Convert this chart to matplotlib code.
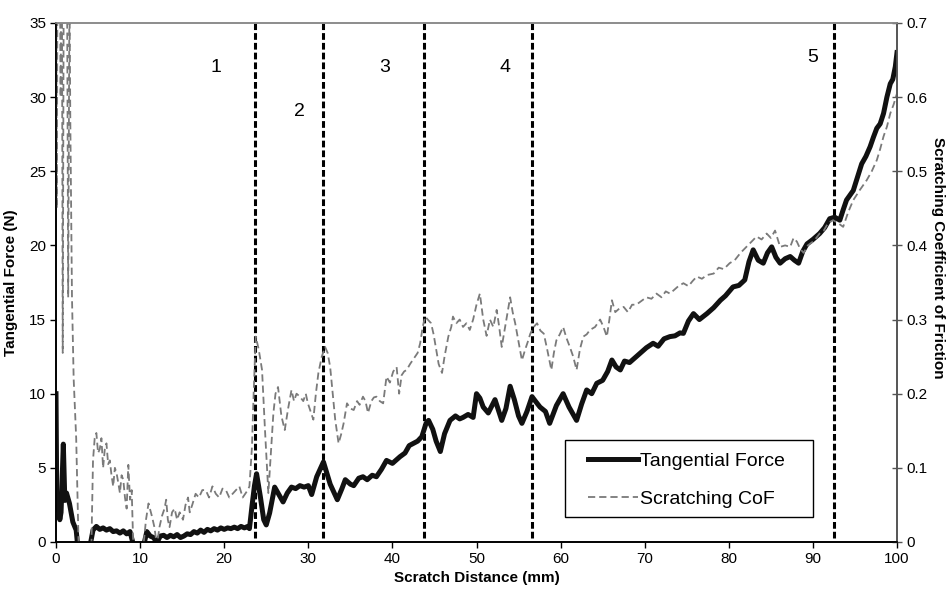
import numpy as np
import matplotlib
matplotlib.use("Agg")
import matplotlib.pyplot as plt
from matplotlib.patches import Rectangle

plt.rcParams['font.family'] = ['Liberation Sans', 'DejaVu Sans']

# Tangential force (N) vs scratch distance (mm)
force_x = [0.0, 0.1, 0.3, 0.45, 0.6, 0.87, 1.05, 1.25, 1.6, 2.0, 2.4, 2.7, 2.85, 3.9, 4.0,
           4.4, 4.8, 5.2, 5.6, 6.0, 6.4, 6.8, 7.2, 7.6, 8.0, 8.4, 8.8, 9.25, 9.8, 10.4,
           10.8, 11.2, 11.6, 12.0, 12.4, 12.8, 13.2, 13.6, 14.0, 14.4, 14.8, 15.2, 15.6,
           16.0, 16.4, 16.8, 17.2, 17.6, 18.0, 18.4, 18.8, 19.2, 19.6, 20.0, 20.4, 20.8,
           21.2, 21.6, 22.0, 22.4, 22.8, 23.0, 23.3, 23.6, 23.85, 24.3, 24.7, 25.0, 25.4,
           26.0, 26.5, 27.0, 27.5, 28.0, 28.5, 29.0, 29.5, 30.0, 30.4, 31.0, 31.8, 32.6,
           33.45, 34.0, 34.4, 35.0, 35.4, 36.0, 36.5, 37.0, 37.6, 38.1, 38.7, 39.3, 40.0,
           40.9, 41.5, 42.0, 42.5, 43.0, 43.5, 44.0, 44.3, 44.8, 45.2, 45.7, 46.2, 46.85,
           47.5, 48.0, 48.4, 49.0, 49.6, 50.0, 50.4, 50.8, 51.4, 52.2, 53.0, 53.5, 54.0,
           54.5, 55.0, 55.4, 56.0, 56.6, 57.0, 57.55, 58.2, 58.7, 59.5, 60.3, 61.0, 61.9,
           62.5, 63.1, 63.7, 64.3, 65.0, 65.6, 66.1, 66.6, 67.1, 67.6, 68.2, 69.0, 69.6,
           70.2, 71.0, 71.6, 72.3, 73.0, 73.6, 74.2, 74.6, 75.2, 75.8, 76.5, 77.4, 78.2,
           79.0, 79.6, 80.5, 81.2, 81.9, 82.4, 82.9, 83.5, 84.1, 84.6, 85.1, 85.6, 86.1,
           86.7, 87.3, 87.8, 88.3, 88.8, 89.3, 90.0, 90.8, 91.4, 92.0, 92.6, 93.2, 93.6,
           94.0, 94.8, 95.3, 95.8, 96.3, 96.8, 97.2, 97.6, 98.0, 98.4, 98.8, 99.2, 99.5,
           99.8, 100.0]
force_n = [10.0, 2.2, 2.6, 1.5, 2.0, 6.6, 2.8, 3.3, 2.6, 1.35, 0.8, -1.0, -3.0, -3.0, -0.4,
           0.8, 1.05, 0.85, 0.95, 0.8, 0.9, 0.7, 0.75, 0.6, 0.75, 0.55, 0.7, -0.3, -0.2, -0.3,
           0.7, 0.4, 0.3, -0.05, 0.4, 0.45, 0.3, 0.45, 0.35, 0.5, 0.3, 0.4, 0.55,
           0.5, 0.7, 0.6, 0.8, 0.65, 0.85, 0.75, 0.9, 0.8, 0.95, 0.85, 0.95, 0.9,
           1.0, 0.9, 1.05, 0.95, 1.05, 0.9, 2.4, 3.8, 4.6, 3.05, 1.5, 1.15, 1.95,
           3.7, 3.2, 2.7, 3.3, 3.7, 3.6, 3.8, 3.7, 3.8, 3.2, 4.4, 5.4, 3.9,
           2.85, 3.6, 4.2, 3.9, 3.8, 4.3, 4.4, 4.2, 4.5, 4.4, 4.9, 5.5, 5.3,
           5.75, 6.0, 6.5, 6.65, 6.8, 7.1, 8.0, 8.2, 7.6, 6.8, 6.1, 7.3, 8.2,
           8.5, 8.3, 8.4, 8.6, 8.4, 10.0, 9.7, 9.1, 8.7, 9.6, 8.2, 9.0, 10.5,
           9.6, 8.5, 8.0, 8.8, 9.8, 9.5, 9.1, 8.8, 8.0, 9.2, 10.0, 9.1, 8.2,
           9.3, 10.25, 10.0, 10.7, 10.9, 11.5, 12.27, 11.8, 11.6, 12.2, 12.1, 12.5, 12.8,
           13.1, 13.4, 13.2, 13.7, 13.85, 13.9, 14.1, 14.07, 14.9, 15.4, 15.0, 15.4, 15.8,
           16.3, 16.6, 17.2, 17.3, 17.67, 18.9, 19.7, 19.0, 18.8, 19.5, 19.9, 19.2, 18.8,
           19.1, 19.25, 19.0, 18.8, 19.6, 20.1, 20.4, 20.8, 21.2, 21.8, 21.9, 21.7, 22.4,
           23.06, 23.7, 24.6, 25.5, 26.0, 26.65, 27.3, 27.9, 28.2, 28.9, 30.0, 30.9, 31.2,
           32.05, 33.0]

# Scratching coefficient of friction vs scratch distance (mm)
cof_x = [0.0, 0.1, 0.2, 0.4, 0.55, 0.68, 0.8, 0.95, 1.27, 1.45, 1.6, 1.7, 1.9, 2.1, 2.4,
         2.7, 2.9, 3.9, 4.2, 4.4, 4.6, 4.8, 5.0, 5.2, 5.4, 5.6, 5.8, 6.0, 6.2, 6.4, 6.6,
         6.8, 7.0, 7.2, 7.4, 7.6, 7.8, 8.0, 8.2, 8.4, 8.6, 8.8, 9.0, 9.2, 9.5, 10.2, 10.4,
         10.7, 11.0, 11.4, 11.7, 12.0, 12.3, 12.6, 12.9, 13.1, 13.3, 13.5, 13.8, 14.1,
         14.4, 14.7, 15.1, 15.4, 15.7, 15.9, 16.2, 16.6, 17.0, 17.4, 17.8, 18.2, 18.6,
         19.0, 19.4, 19.8, 20.2, 20.6, 21.0, 21.4, 21.8, 22.2, 22.5, 22.8, 23.0, 23.3,
         23.5, 23.75, 24.1, 24.5, 24.85, 25.25, 25.55, 25.85, 26.1, 26.4, 26.8, 27.2,
         27.6, 28.0, 28.3, 28.6, 29.0, 29.4, 29.7, 29.95, 30.3, 30.6, 30.9, 31.2, 31.6,
         32.0, 32.3, 32.6, 32.9, 33.2, 33.6, 33.9, 34.2, 34.6, 35.0, 35.4, 35.8, 36.1,
         36.5, 36.8, 37.1, 37.5, 37.8, 38.1, 38.5, 38.9, 39.3, 39.7, 40.1, 40.5, 40.8,
         41.1, 41.4, 41.7, 42.1, 42.4, 42.7, 43.0, 43.3, 43.6, 43.9, 44.2, 44.6, 44.9,
         45.2, 45.5, 45.9, 46.2, 46.65, 47.0, 47.2, 47.6, 48.0, 48.4, 48.8, 49.2, 49.6,
         50.0, 50.4, 50.8, 51.2, 51.6, 52.0, 52.4, 52.7, 53.0, 53.4, 53.7, 54.0, 54.3,
         54.6, 55.0, 55.4, 55.8, 56.1, 56.4, 56.8, 57.2, 57.6, 58.0, 58.4, 58.9, 59.2,
         59.5, 59.9, 60.3, 60.7, 61.1, 61.5, 61.9, 62.3, 62.7, 63.1, 63.5, 64.1, 64.7,
         65.1, 65.5, 65.8, 66.1, 66.5, 67.0, 67.5, 68.0, 68.5, 69.0, 69.6, 70.2, 70.8,
         71.4, 72.0, 72.5, 73.0, 73.5, 74.0, 74.6, 75.2, 75.7, 76.2, 76.8, 77.4, 78.2,
         78.8, 79.4, 80.1, 80.7, 81.4, 82.1, 82.7, 83.3, 83.9, 84.5, 85.0, 85.5, 86.1,
         86.7, 87.3, 87.7, 88.1, 88.5, 88.9, 89.4, 90.0, 90.4, 90.8, 91.3, 91.8, 92.4,
         93.0, 93.6, 94.2, 94.8, 95.6, 96.4, 97.0, 97.6, 98.0, 98.4, 98.8, 99.2, 99.6,
         100.0]
cof_val = [0.9, 0.45, 0.9, 0.9, 0.6, 0.9, 0.255, 0.9, 0.9, 0.33, 0.75, 0.57, 0.33, 0.22, 0.14,
           -0.01, -0.3, -0.3, -0.01, 0.11, 0.14, 0.147, 0.12, 0.125, 0.14, 0.10, 0.125, 0.133,
           0.105, 0.11, 0.09, 0.075, 0.1, 0.093, 0.08, 0.066, 0.09, 0.084, 0.06, 0.045, 0.104,
           0.057, 0.07, -0.01, -0.05, -0.05, -0.005, 0.03, 0.052, 0.035, 0.02, -0.005, 0.02,
           0.035, 0.045, 0.057, 0.03, 0.02, 0.04, 0.045, 0.03, 0.04, 0.03, 0.05, 0.06, 0.04,
           0.05, 0.065, 0.06, 0.07, 0.07, 0.06, 0.075, 0.065, 0.06, 0.072, 0.07, 0.06, 0.065,
           0.07, 0.075, 0.06, 0.065, 0.07, 0.075, 0.128, 0.2, 0.277, 0.26, 0.232, 0.151,
           0.066, 0.12, 0.174, 0.2, 0.209, 0.17, 0.151, 0.18, 0.205, 0.19, 0.2, 0.196, 0.19,
           0.2, 0.187, 0.175, 0.165, 0.2, 0.228, 0.25, 0.263, 0.255, 0.236, 0.2, 0.165, 0.133,
           0.145, 0.16, 0.187, 0.18, 0.178, 0.19, 0.185, 0.196, 0.19, 0.174, 0.19, 0.195,
           0.196, 0.19, 0.187, 0.223, 0.215, 0.23, 0.236, 0.2, 0.225, 0.23, 0.232, 0.24,
           0.245, 0.25, 0.255, 0.268, 0.29, 0.304, 0.3, 0.295, 0.28, 0.26, 0.24, 0.228, 0.25,
           0.277, 0.29, 0.304, 0.295, 0.3, 0.29, 0.295, 0.286, 0.3, 0.32, 0.335, 0.3, 0.278,
           0.3, 0.29, 0.313, 0.29, 0.263, 0.29, 0.31, 0.33, 0.31, 0.295, 0.27, 0.245, 0.26,
           0.27, 0.281, 0.29, 0.295, 0.285, 0.281, 0.26, 0.232, 0.255, 0.272, 0.28, 0.29,
           0.275, 0.263, 0.25, 0.232, 0.26, 0.277, 0.28, 0.286, 0.29, 0.3, 0.29, 0.277, 0.3,
           0.326, 0.31, 0.315, 0.317, 0.31, 0.32, 0.32, 0.325, 0.33, 0.328, 0.335, 0.33,
           0.338, 0.335, 0.34, 0.345, 0.349, 0.345, 0.352, 0.358, 0.355, 0.36, 0.362, 0.37,
           0.368, 0.376, 0.38, 0.39, 0.398, 0.405, 0.412, 0.408, 0.416, 0.41, 0.42, 0.398,
           0.4, 0.398, 0.41, 0.405, 0.395, 0.39, 0.4, 0.405, 0.41, 0.416, 0.42, 0.43, 0.434,
           0.43, 0.425, 0.445, 0.461, 0.475, 0.488, 0.5, 0.515, 0.53, 0.547, 0.56, 0.578,
           0.59, 0.605]

# region boundaries and labels
boundaries = [23.7, 31.7, 43.7, 56.6, 92.5]
region_names = ["1", "2", "3", "4", "5"]
region_x = [19.0, 29.0, 39.1, 53.4, 90.0]
region_y = [32.0, 29.0, 32.0, 32.0, 32.7]

fig = plt.figure(figsize=(9.46, 6.01), dpi=100)
ax = fig.add_axes([0.0592, 0.0982, 0.8890, 0.8636])
ax2 = ax.twinx()

for b in boundaries:
    ax.plot([b, b], [0.3, 35], color="black", lw=2.2, dashes=(2.2, 1.0), zorder=2)
for name, tx, ty in zip(region_names, region_x, region_y):
    ax.text(tx, ty, name, fontsize=14, ha="center", va="center")

line_f, = ax.plot(force_x, force_n, color="#111111", lw=3.6, zorder=3,
                  solid_joinstyle="round", label="Tangential Force")
line_c, = ax2.plot(cof_x, cof_val, color="#7a7a7a", lw=1.3, dashes=(4, 2.2),
                   label="Scratching CoF")

ax.set_xlim(0, 100)
ax.set_ylim(0, 35)
ax2.set_ylim(0, 0.7)
ax.set_xticks(np.arange(0, 101, 10))
ax.set_yticks(np.arange(0, 36, 5))
ax2.set_yticks(np.arange(0, 0.71, 0.1))
ax2.set_yticklabels(["0", "0.1", "0.2", "0.3", "0.4", "0.5", "0.6", "0.7"])

ax.tick_params(axis="both", direction="out", length=4, width=1, labelsize=11, pad=3)
ax2.tick_params(axis="y", direction="inout", length=7, width=1, labelsize=11, pad=3,
                color="#555555")

for a in (ax, ax2):
    a.spines["top"].set_color("#8c8c8c")
    a.spines["right"].set_color("#555555")
    a.spines["left"].set_color("black")
    a.spines["bottom"].set_color("black")
    for s in a.spines.values():
        s.set_linewidth(1.2)

ax.set_xlabel("Scratch Distance (mm)", fontsize=11, fontweight="bold", labelpad=4)
ax.set_ylabel("Tangential Force (N)", fontsize=11, fontweight="bold", labelpad=8)
ax2.set_ylabel("Scratching Coefficient of Friction", fontsize=11, fontweight="bold",
               rotation=270, ha="center", va="center")
ax2.yaxis.set_label_coords(1.049, 0.547)

# legend: text entries without frame, box drawn separately
ax2.add_patch(Rectangle((0.605, 0.048), 0.295, 0.148, transform=ax.transAxes,
                        facecolor="white", edgecolor="black", lw=1.0, zorder=4))
leg = ax2.legend(handles=[line_f, line_c], loc="upper left",
                 bbox_to_anchor=(0.632, 0.173), fontsize=14, frameon=False,
                 handlelength=2.6, handletextpad=0.1, borderpad=0.0,
                 labelspacing=1.05, borderaxespad=0)
leg.set_zorder(5)

fig.savefig("out.png", dpi=100)
